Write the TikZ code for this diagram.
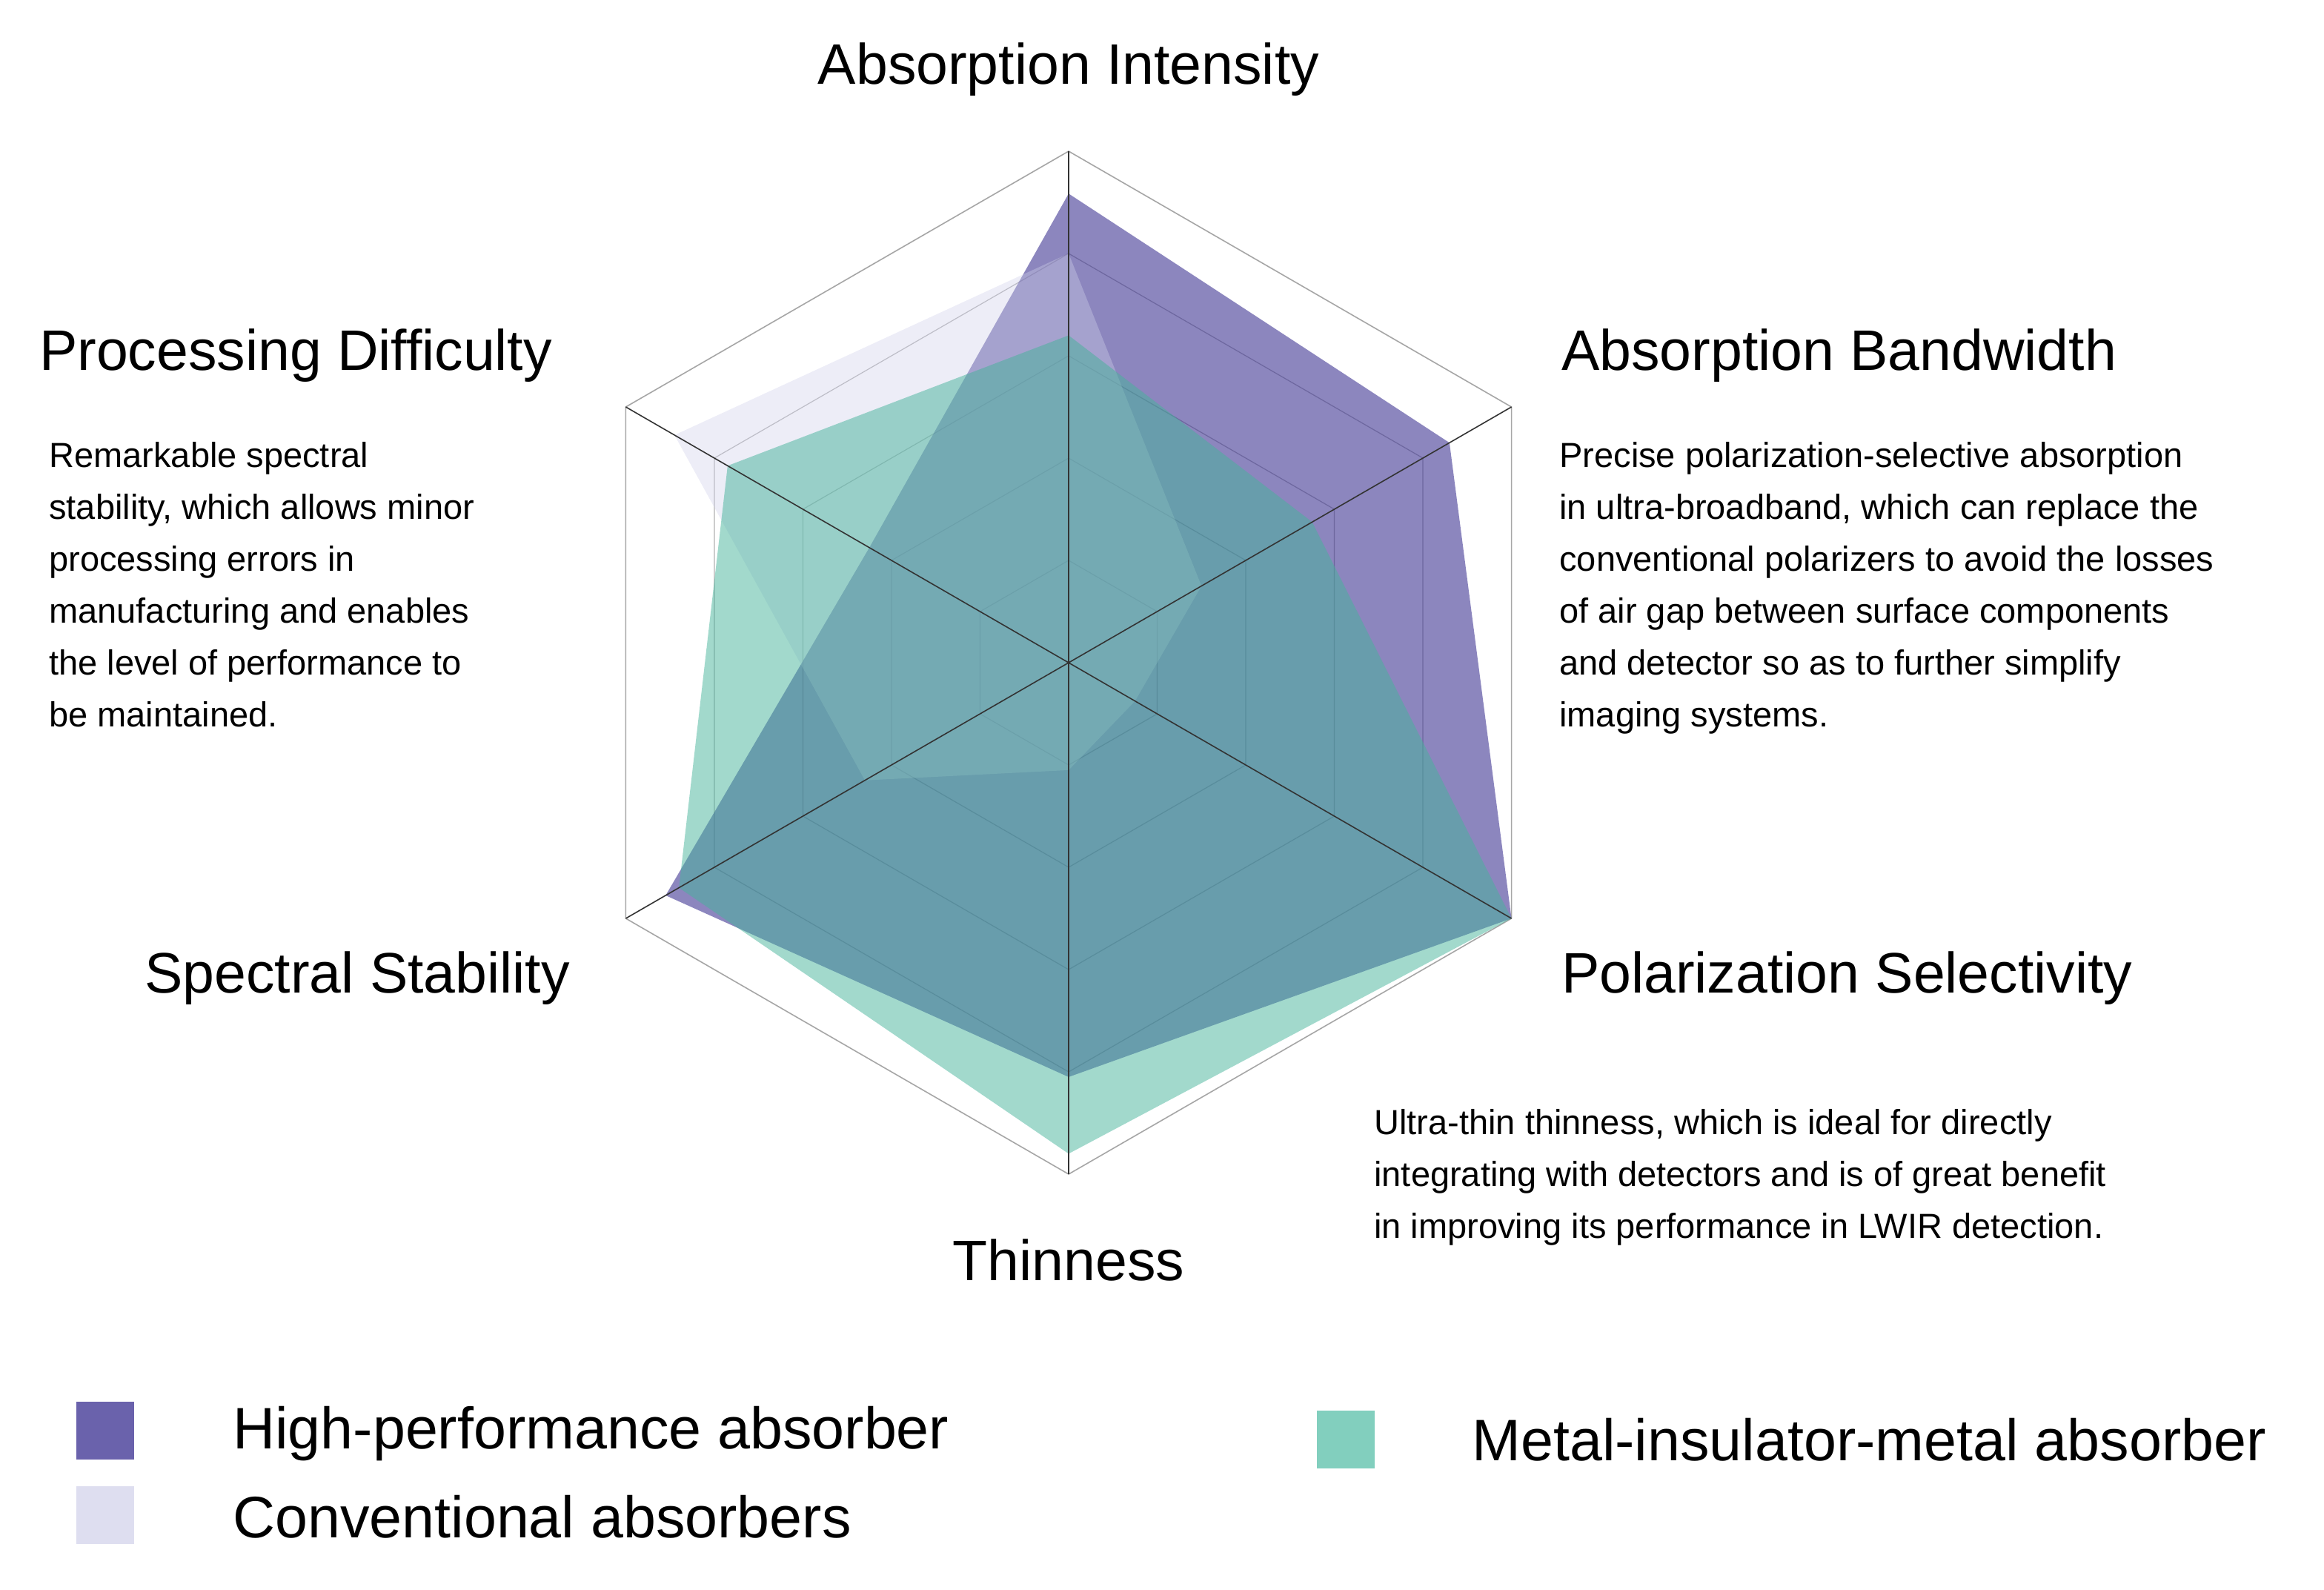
\documentclass[tikz,border=0pt]{standalone}
\usepackage{fontspec}
\setmainfont{Liberation Sans}
\begin{document}
\begin{tikzpicture}[x=1pt,y=1pt,
  big/.style={font=\fontsize{38.5}{42}\selectfont},
  para/.style={font=\fontsize{23.5}{35}\selectfont,align=left,anchor=north west,inner sep=0},
  leg/.style={font=\fontsize{39.5}{42}\selectfont,anchor=west,inner sep=0},
  sq/.style={minimum size=39pt,inner sep=0}]
\useasboundingbox (-721,-625) rectangle (847,447);
\def\R{345}
\definecolor{cpur}{HTML}{3F3592}
\definecolor{clav}{HTML}{D0D0EA}
\definecolor{ctea}{HTML}{45B39A}
\definecolor{lpur}{HTML}{6A62AC}
\definecolor{ltea}{HTML}{82CFBE}
% grid
\foreach \r in {0.2,0.4,0.6,0.8}
  \draw[gray!60,line width=0.6pt] (90:\r*\R) -- (30:\r*\R) -- (-30:\r*\R) -- (-90:\r*\R) -- (-150:\r*\R) -- (150:\r*\R) -- cycle;
\draw[gray!70,line width=0.8pt] (90:\R) -- (30:\R) -- (-30:\R) -- (-90:\R) -- (-150:\R) -- (150:\R) -- cycle;
% data
\fill[cpur,fill opacity=0.6] (90:0.917*\R) -- (30:0.86*\R) -- (-30:1.0*\R) -- (-90:0.81*\R) -- (-150:0.91*\R) -- (150:0.45*\R) -- cycle;
\fill[clav,fill opacity=0.38] (90:0.8*\R) -- (30:0.30*\R) -- (-30:0.15*\R) -- (-90:0.21*\R) -- (-150:0.46*\R) -- (150:0.89*\R) -- cycle;
\fill[ctea,fill opacity=0.5] (90:0.64*\R) -- (30:0.55*\R) -- (-30:1.0*\R) -- (-90:0.96*\R) -- (-150:0.88*\R) -- (150:0.77*\R) -- cycle;
% axes
\coordinate (c) at (0,0);
\foreach \a in {90,30,-30,-90,-150,150}
  \draw[black!80,line width=0.8pt] (c) -- (\a:\R);
% labels
\node[big] (t1) at (0,400) {Absorption Intensity};
\node[big,anchor=west] (t2) at (-698,207) {Processing Difficulty};
\node[big,anchor=west] (t3) at (329,207) {Absorption Bandwidth};
\node[big,anchor=west] (t4) at (329,-213) {Polarization Selectivity};
\node[big,anchor=east] (t5) at (-333,-213) {Spectral Stability};
\node[big] (t6) at (0,-403) {Thinness};
\node[para] (p1) at (-688,149) {Remarkable spectral\\stability, which allows minor\\processing errors in\\manufacturing and enables\\the level of performance to\\be maintained.};
\node[para] (p2) at (331,149) {Precise polarization-selective absorption\\in ultra-broadband, which can replace the\\conventional polarizers to avoid the losses\\of air gap between surface components\\and detector so as to further simplify\\imaging systems.};
\node[para] (p3) at (206,-301) {Ultra-thin thinness, which is ideal for directly\\integrating with detectors and is of great benefit\\in improving its performance in LWIR detection.};
% legend
\node[sq,fill=lpur] (s1) at (-650,-518) {};
\node[sq,fill=clav!70] (s2) at (-650,-575) {};
\node[sq,fill=ltea] (s3) at (187,-524) {};
\node[leg] (l1) at (-564,-520) {High-performance absorber};
\node[leg] (l2) at (-564,-576) {Conventional absorbers};
\node[leg] (l3) at (272,-524) {Metal-insulator-metal absorber};
\end{tikzpicture}
\end{document}
